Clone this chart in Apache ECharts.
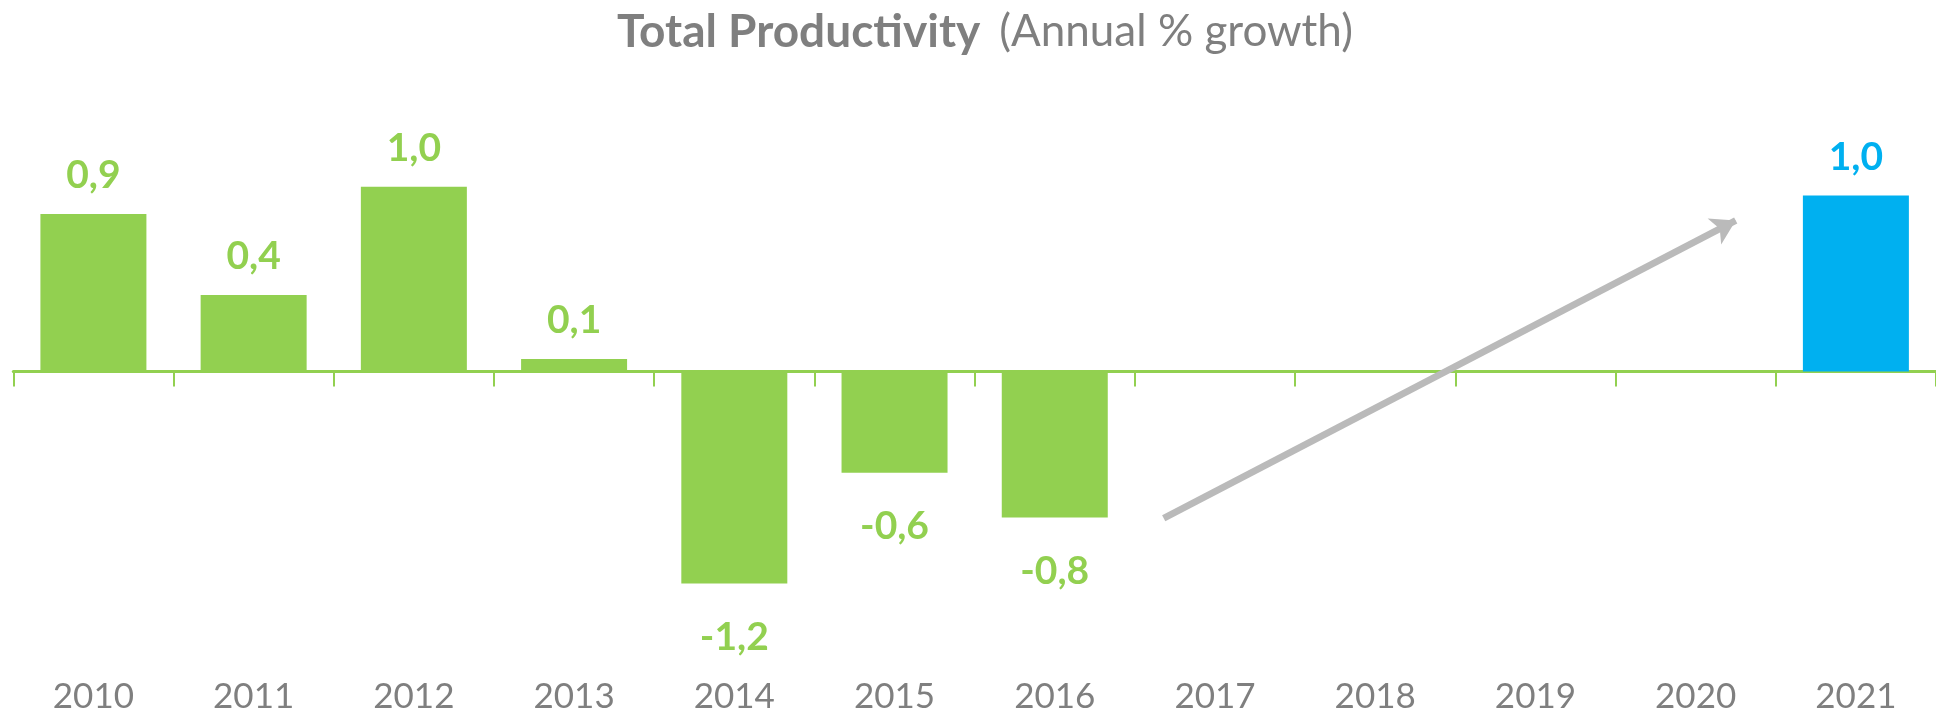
<!DOCTYPE html>
<html>
<head>
<meta charset="utf-8">
<script src="https://cdn.jsdelivr.net/npm/echarts@6/dist/echarts.min.js"></script>
<style>html,body{margin:0;padding:0;background:#fff;}#c{width:1936px;height:714px;}</style>
</head>
<body>
<div id="c"></div>
<script>
const years = ['2010','2011','2012','2013','2014','2015','2016','2017','2018','2019','2020','2021'];
const growth = [0.886, 0.43, 1.04, 0.07, -1.193, -0.57, -0.822, null, null, null, null, 0.99];
const highlightYear = '2021';
// arrow annotation, in category units (0..12) and value units
const arrowFrom = [7.18, -0.826];
const arrowTo = [10.75, 0.85];

const GREEN = '#92d050', BLUE = '#00b0f0', GREY = '#7f7f7f';
const chart = echarts.init(document.getElementById('c'));
const fmt = v => v.toFixed(1).replace('.', ',');

const barData = growth.map((v, i) => {
  if (v === null) return null;
  const col = years[i] === highlightYear ? BLUE : GREEN;
  return {
    value: v,
    itemStyle: { color: col },
    label: { color: col, distance: v < 0 ? 34 : 19 }
  };
});

chart.setOption({
  animation: false,
  title: {
    left: 612,
    top: 4,
    text: '{b|Total Productivity}{r|(Annual % growth)}',
    textStyle: {
      rich: {
        b: { fontFamily: 'Lato', fontWeight: 'bold', fontSize: 46, color: GREY, padding: [0, 19, 0, 0] },
        r: { fontFamily: 'Lato', fontWeight: 'normal', fontSize: 44, color: GREY }
      }
    }
  },
  grid: { left: 13.3, top: 105, width: 1933, height: 534 },
  xAxis: [
    {
      type: 'category', data: years, position: 'bottom',
      axisLine: { onZero: true, lineStyle: { color: GREEN, width: 3 } },
      axisTick: { show: true, length: 15, lineStyle: { color: GREEN, width: 2 } },
      axisLabel: { show: false }
    },
    {
      type: 'category', data: years, position: 'bottom',
      axisLine: { show: false, onZero: false },
      axisTick: { show: false },
      axisLabel: { show: true, margin: 41, fontFamily: 'Lato', fontSize: 35, color: GREY }
    },
    { type: 'value', min: 0, max: years.length, show: false, splitLine: { show: false } }
  ],
  yAxis: { type: 'value', min: -1.5, max: 1.5, show: false, splitLine: { show: false } },
  series: [{
    type: 'bar',
    xAxisIndex: 0,
    data: barData,
    barWidth: 106,
    label: {
      show: true,
      position: 'outside',
      fontFamily: 'Lato', fontWeight: 'bold', fontSize: 39,
      formatter: p => fmt(p.value)
    }
  }, {
    type: 'line',
    xAxisIndex: 2,
    data: [],
    markLine: {
      silent: true,
      symbol: ['none', 'arrow'],
      symbolSize: [22, 24],
      label: { show: false },
      lineStyle: { color: '#bababa', width: 7, type: 'solid', cap: 'butt' },
      data: [[{ coord: arrowFrom }, { coord: arrowTo }]]
    }
  }]
});
</script>
</body>
</html>
